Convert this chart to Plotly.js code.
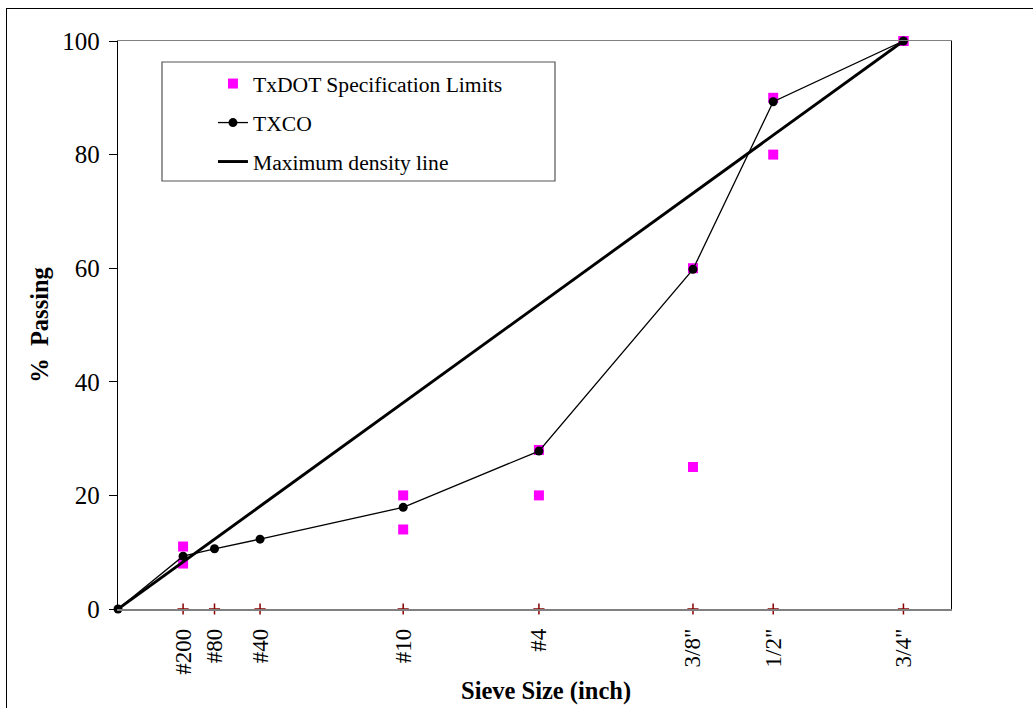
<!DOCTYPE html>
<html>
<head>
<meta charset="utf-8">
<script src="https://cdn.plot.ly/plotly-3.0.1.min.js"></script>
<style>
  html, body { margin: 0; padding: 0; background: #fff; overflow: hidden; }
  #chart { position: absolute; left: 0; top: 0; width: 1033px; height: 708px; }
  #frame { position: absolute; left: 6px; top: 8px; width: 2000px; height: 2000px;
           border: 1px solid #000; pointer-events: none; z-index: 10; }
</style>
</head>
<body>
<div id="chart"></div>
<div id="frame"></div>
<script>
// Sieve data (0.45 power gradation chart)
const sieveLabels = ["#200", "#80", "#40", "#10", "#4", "3/8\"", "1/2\"", "3/4\""];
const sieveSizeMm = [0.075, 0.18, 0.425, 2.0, 4.75, 9.5, 12.7, 19.0];

// TXCO gradation (% passing), starting at origin
const txcoSizeMm = [0, 0.075, 0.18, 0.425, 2.0, 4.75, 9.5, 12.7, 19.0];
const txcoPassing = [0, 9.3, 10.6, 12.3, 17.9, 27.8, 59.8, 89.3, 100];

// TxDOT specification limits
const specSizeMm = [0.075, 0.075, 2.0, 2.0, 4.75, 4.75, 9.5, 9.5, 12.7, 12.7, 19.0, 19.0];
const specPassing = [11, 8, 20, 14, 28, 20, 60, 25, 90, 80, 100, 100];

// Maximum density line endpoints
const maxDenSizeMm = [0, 19.0];
const maxDenPassing = [0, 100];

const yTicks = [0, 20, 40, 60, 80, 100];

const POWER = 0.45;
const xs = arr => arr.map(d => Math.pow(d, POWER));

const serif = "Liberation Serif, Times New Roman, serif";

const traces = [
  {
    x: xs(specSizeMm), y: specPassing, type: "scatter", mode: "markers",
    name: "TxDOT Specification Limits",
    marker: { symbol: "square", size: 10, color: "#ff00ff" },
    legend: "legend", cliponaxis: false
  },
  {
    x: xs(maxDenSizeMm), y: maxDenPassing, type: "scatter", mode: "lines",
    name: "Maximum density line",
    line: { color: "#000", width: 2.9 },
    legend: "legend3", cliponaxis: false
  },
  {
    x: xs(txcoSizeMm), y: txcoPassing, type: "scatter", mode: "lines+markers",
    name: "TXCO",
    line: { color: "#000", width: 1.3 },
    marker: { symbol: "circle", size: 9, color: "#000" },
    legend: "legend2", cliponaxis: false
  },
  {
    x: xs(sieveSizeMm), y: sieveSizeMm.map(() => 0), type: "scatter", mode: "markers",
    showlegend: false, hoverinfo: "skip",
    marker: { symbol: "cross-thin", size: 8, line: { color: "#8b0000", width: 1.5 } },
    cliponaxis: false
  }
];

const legendBase = {
  bgcolor: "rgba(0,0,0,0)", borderwidth: 0,
  font: { family: serif, size: 21.6, color: "#000" },
  xanchor: "left", yanchor: "middle", x: 0.114
};

const layout = {
  width: 1033, height: 708,
  margin: { l: 118, r: 82, t: 41, b: 99 },
  paper_bgcolor: "rgba(0,0,0,0)", plot_bgcolor: "#fff",
  font: { family: serif, color: "#000" },
  xaxis: {
    range: [0, 3.99], showgrid: false, zeroline: false,
    tickmode: "array", tickvals: xs(sieveSizeMm), ticktext: sieveLabels,
    tickangle: -90, ticks: "outside", ticklen: 9, tickcolor: "rgba(0,0,0,0)",
    tickfont: { family: serif, size: 23, color: "#000" },
    showline: true, linecolor: "#808080", linewidth: 1.5, mirror: true
  },
  yaxis: {
    range: [0, 100], showgrid: false, zeroline: false,
    tickmode: "array", tickvals: yTicks,
    ticks: "outside", ticklen: 8, tickcolor: "#000", tickwidth: 1,
    ticklabelstandoff: 4,
    tickfont: { family: serif, size: 25, color: "#000" },
    showline: true, linecolor: "#000", linewidth: 1.2, mirror: true,
    title: { text: "<b>%  Passing</b>", font: { family: serif, size: 24.5, color: "#000" }, standoff: 6 }
  },
  annotations: [
    { text: "<b>Sieve Size (inch)</b>", xref: "paper", yref: "paper",
      x: 0.5138, y: -0.1444, xanchor: "center", yanchor: "middle", showarrow: false,
      font: { family: serif, size: 24.5, color: "#000" } }
  ],
  shapes: [
    { type: "rect", xref: "paper", yref: "paper",
      x0: 0.0528, x1: 0.5246, y0: 0.7535, y1: 0.963,
      line: { color: "#555", width: 1.2 }, fillcolor: "#fff", layer: "below" }
  ],
  legend: Object.assign({}, legendBase, { y: 0.9243 }),
  legend2: Object.assign({}, legendBase, { y: 0.8556 }),
  legend3: Object.assign({}, legendBase, { y: 0.787 }),
  showlegend: true
};

Plotly.newPlot("chart", traces, layout, { displayModeBar: false, staticPlot: true });
</script>
</body>
</html>
